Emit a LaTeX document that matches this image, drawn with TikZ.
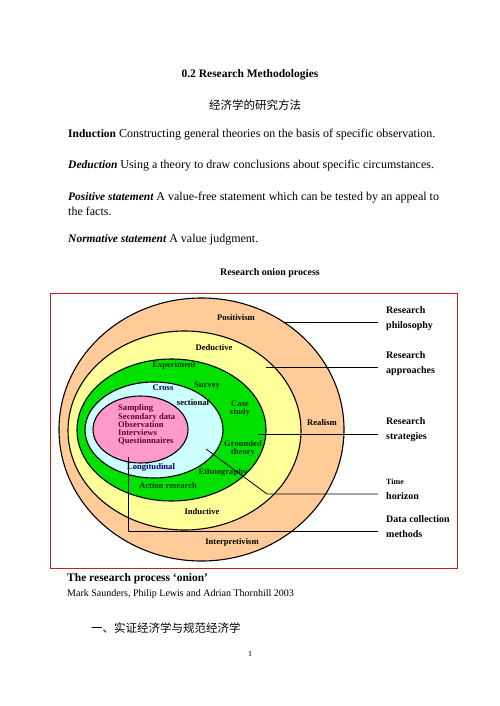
\documentclass[tikz,border=0pt]{standalone}
\usepackage{fontspec}
\setmainfont{Liberation Serif}
\newfontfamily\cjk{Noto Sans CJK SC}
\usetikzlibrary{shapes.geometric}
\definecolor{peach}{RGB}{255,204,153}
\definecolor{paleyellow}{RGB}{255,255,153}
\definecolor{onigreen}{RGB}{0,225,0}
\definecolor{palecyan}{RGB}{204,255,255}
\definecolor{onipink}{RGB}{255,153,204}
\definecolor{txtgreen}{RGB}{0,60,0}
\definecolor{txtblue}{RGB}{0,0,100}
\definecolor{txtpurple}{RGB}{102,0,51}
\definecolor{framered}{RGB}{200,30,30}
\newcommand\headword[1]{{\fontsize{11.5}{15}\selectfont\bfseries #1}}
\begin{document}
\begin{tikzpicture}[x=1pt,y=-1pt,
  body/.style={inner sep=0, font=\fontsize{12}{15}\selectfont, align=left},
  ell/.style={ellipse, draw=black, line width=1.1pt, inner sep=0},
  oni/.style={inner sep=0, font=\bfseries\fontsize{8.6}{7.5}\selectfont, align=center},
  side/.style={inner sep=0, anchor=west, font=\bfseries\fontsize{10}{15}\selectfont, align=left},
  conn/.style={line width=0.8pt, black}]
\useasboundingbox[fill=white] (0,0) rectangle (500,706);

% header text
\node[body, font=\bfseries\fontsize{11.5}{14}\selectfont] (title) at (250,75) {0.2 Research Methodologies};
\node[body, font=\cjk\fontsize{11.5}{14}\selectfont] (cntitle) at (255,105) {经济学的研究方法};
\node[body, anchor=west] (ind) at (68,135) {\headword{Induction} Constructing general theories on the basis of specific observation.};
\node[body, anchor=west] (ded) at (68,166) {\headword{\itshape Deduction} Using a theory to draw conclusions about specific circumstances.};
\node[body, anchor=west] (pos) at (68,203.5) {\headword{\itshape Positive statement} A value-free statement which can be tested by an appeal to\\the facts.};
\node[body, anchor=west] (norm) at (68,240) {\headword{\itshape Normative statement} A value judgment.};
\node[body, font=\bfseries\fontsize{10}{12}\selectfont] (caption) at (270,273) {Research onion process};

% frame
\draw[framered, line width=0.8pt] (50,293) rectangle (457,568);

% onion
\node[ell, fill=peach, minimum width=285, minimum height=263] (outer) at (201.5,429.5) {};
\node[ell, fill=paleyellow, minimum width=233, minimum height=199] (yel) at (184.5,430.5) {};
\node[ell, fill=onigreen, minimum width=189, minimum height=142] (grn) at (171.5,430) {};
\node[ell, fill=palecyan, minimum width=138, minimum height=96] (cyn) at (154,430) {};
\node[ell, fill=onipink, minimum width=95, minimum height=67] (pnk) at (140.5,429.5) {};

% onion labels
\node[oni] (positivism) at (236,318) {Positivism};
\node[oni] (deductive) at (214,348) {Deductive};
\node[oni, text=txtgreen] (experiment) at (174,365) {Experiment};
\node[oni, text=txtgreen] (survey) at (207,386) {Survey};
\node[oni, text=txtblue] (cross) at (163,388) {Cross};
\node[oni] (sectional) at (193,403) {sectional};
\node[oni, text=txtgreen] (case) at (240,408.5) {Case\\study};
\node[oni, text=txtpurple, anchor=west, align=left, font=\bfseries\fontsize{8.6}{7.8}\selectfont] (data) at (118,424.5) {Sampling\\Secondary data\\Observation\\Interviews\\Questionnaires};
\node[oni] (realism) at (322,423) {Realism};
\node[oni, text=txtgreen] (grounded) at (243,448.5) {Grounded\\theory};
\node[oni, text=txtblue] (longi) at (151,467) {Longitudinal};
\node[oni, text=txtgreen] (ethno) at (223,472) {Ethnography};
\node[oni, text=txtgreen] (action) at (168,486) {Action research};
\node[oni] (inductive) at (202,512) {Inductive};
\node[oni] (interp) at (232,542) {Interpretivism};

% side labels
\node[side] (lphil) at (386,318.5) {Research\\philosophy};
\node[side] (lappr) at (386,363.5) {Research\\approaches};
\node[side] (lstrat) at (386,430) {Research\\strategies};
\node[side] (ltime) at (386,489.5) {{\fontsize{8}{8}\selectfont Time}\\horizon};
\node[side] (ldata) at (386,527) {Data collection\\methods};

% connectors
\coordinate (cphil) at (283,322);
\coordinate (cappr) at (266,367);
\coordinate (cstrat) at (258,434);
\coordinate (ctime0) at (206,449);
\coordinate (ctime1) at (267,494);
\coordinate (cdata0) at (128,457);
\coordinate (cdata1) at (128,531);
\draw[conn, shorten >=8pt] (cphil) -- (cphil -| lphil.west);
\draw[conn, shorten >=8pt] (cappr) -- (cappr -| lappr.west);
\draw[conn, shorten >=8pt] (cstrat) -- (cstrat -| lstrat.west);
\draw[conn, shorten >=8pt] (ctime0) -- (ctime1) -- (ctime1 -| ltime.west);
\draw[conn, shorten >=8pt] (cdata0) -- (cdata1) -- (cdata1 -| ldata.west);

% footer text
\node[body, anchor=west, font=\bfseries\fontsize{11.5}{14}\selectfont] (onion) at (67,579) {The research process ‘onion’};
\node[body, anchor=west, font=\fontsize{10}{12}\selectfont] (authors) at (67,594) {Mark Saunders, Philip Lewis and Adrian Thornhill 2003};
\node[body, anchor=west, font=\cjk\fontsize{11.5}{14}\selectfont] (section) at (91,628) {一、实证经济学与规范经济学};
\node[body, font=\fontsize{8}{9}\selectfont] (page) at (250,654) {1};
\end{tikzpicture}
\end{document}
